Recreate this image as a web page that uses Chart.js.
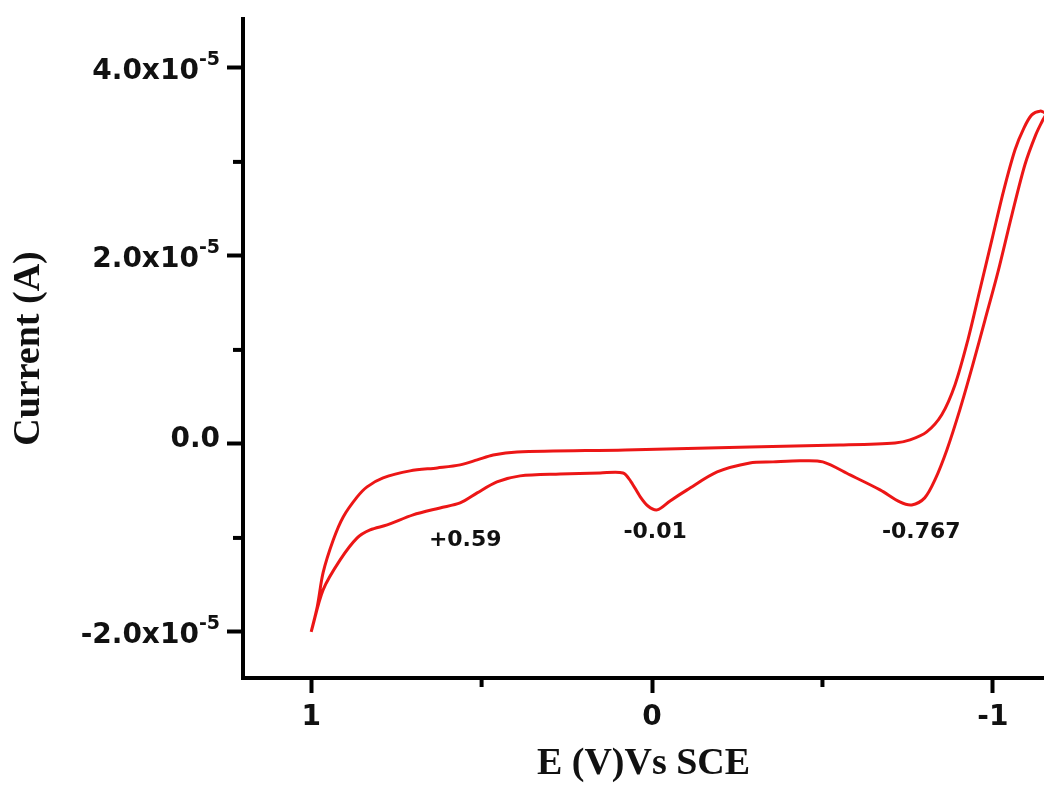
<!DOCTYPE html>
<html><head><meta charset="utf-8">
<script src="https://cdn.jsdelivr.net/npm/chart.js@4.4.1/dist/chart.umd.min.js"></script>
<style>html,body{margin:0;padding:0;background:#fff;overflow:hidden}</style>
</head><body>
<canvas id="c" width="1044" height="787" style="display:block"></canvas>
<script>
// Potential (V vs SCE) and current (units of 1e-5 A), forward (lower) branch
const forwardE = [1.0, 0.965, 0.915, 0.865, 0.827, 0.777, 0.701, 0.622, 0.563, 0.513, 0.455, 0.387, 0.27, 0.152, 0.085, 0.062, 0.035, 0.012, -0.015, -0.053, -0.103, -0.191, -0.287, -0.355, -0.434, -0.501, -0.581, -0.669, -0.727, -0.762, -0.8, -0.830, -0.865, -0.903, -0.941, -0.977, -1.015, -1.056, -1.094, -1.126, -1.147, -1.155];
const forwardI = [-2.0, -1.553, -1.234, -1.0, -0.915, -0.862, -0.755, -0.681, -0.628, -0.521, -0.404, -0.34, -0.32, -0.309, -0.309, -0.40, -0.56, -0.66, -0.702, -0.606, -0.489, -0.298, -0.202, -0.191, -0.18, -0.191, -0.33, -0.489, -0.617, -0.649, -0.574, -0.383, -0.064, 0.362, 0.84, 1.32, 1.83, 2.44, 2.97, 3.29, 3.45, 3.51];
// reverse (upper) branch
const reverseE = [-1.138, -1.114, -1.091, -1.065, -1.032, -0.997, -0.962, -0.927, -0.889, -0.850, -0.806, -0.757, -0.713, -0.551, -0.287, 0.079, 0.396, 0.466, 0.513, 0.563, 0.63, 0.71, 0.789, 0.836, 0.865, 0.906, 0.935, 0.965, 0.982, 1.0];
const reverseI = [3.54, 3.5, 3.36, 3.13, 2.70, 2.17, 1.64, 1.11, 0.63, 0.31, 0.128, 0.043, 0.011, -0.011, -0.032, -0.064, -0.085, -0.117, -0.17, -0.223, -0.255, -0.287, -0.362, -0.457, -0.564, -0.777, -1.02, -1.37, -1.73, -2.0];

const xMajorTicks = [1, 0, -1];
const xTickLabels = ['1', '0', '-1'];
const xMinorTicks = [0.5, -0.5];
const yMajorTicks = [-2, 0, 2, 4];
const yTickMantissa = ['-2.0x10', '0.0', '2.0x10', '4.0x10'];
const yTickExponent = ['-5', '', '-5', '-5'];
const yMinorTicks = [-1, 1, 3];

const peakLabels = ['+0.59', '-0.01', '-0.767'];
const peakLabelE = [0.548, -0.009, -0.79];
const peakLabelI = [-1.02, -0.936, -0.936];

const loop = forwardE.map((e, i) => ({x: e, y: forwardI[i]}))
  .concat(reverseE.map((e, i) => ({x: e, y: reverseI[i]})));

const extras = {
  id: 'extras',
  afterDraw(chart) {
    const ctx = chart.ctx, xs = chart.scales.x, ys = chart.scales.y;
    ctx.save();
    ctx.strokeStyle = '#000';
    ctx.lineWidth = 4;
    xMinorTicks.forEach(v => {
      const p = xs.getPixelForValue(v);
      ctx.beginPath(); ctx.moveTo(p, xs.top); ctx.lineTo(p, xs.top + 9); ctx.stroke();
    });
    yMinorTicks.forEach(v => {
      const p = ys.getPixelForValue(v);
      ctx.beginPath(); ctx.moveTo(ys.right - 10, p); ctx.lineTo(ys.right, p); ctx.stroke();
    });
    ctx.fillStyle = '#111';
    // y tick labels with superscript exponent
    const rightEdge = ys.right - 16 - 7;
    yMajorTicks.forEach((v, i) => {
      const p = ys.getPixelForValue(v);
      ctx.textBaseline = 'middle';
      ctx.textAlign = 'right';
      if (yTickExponent[i]) {
        ctx.font = 'bold 19px "DejaVu Sans"';
        const ew = ctx.measureText(yTickExponent[i]).width;
        ctx.fillText(yTickExponent[i], rightEdge, p - 8);
        ctx.font = 'bold 28px "DejaVu Sans"';
        ctx.fillText(yTickMantissa[i], rightEdge - ew, p + 4);
      } else {
        ctx.font = 'bold 28px "DejaVu Sans"';
        ctx.fillText(yTickMantissa[i], rightEdge, p - 4);
      }
    });
    ctx.font = 'bold 22px "DejaVu Sans"';
    ctx.textAlign = 'center';
    ctx.textBaseline = 'middle';
    peakLabels.forEach((t, i) => {
      ctx.fillText(t, xs.getPixelForValue(peakLabelE[i]), ys.getPixelForValue(peakLabelI[i]));
    });
    ctx.restore();
  }
};

const isIn = (arr, v) => arr.some(a => Math.abs(a - v) < 1e-9);

new Chart(document.getElementById('c'), {
  type: 'scatter',
  data: {
    datasets: [{
      data: loop,
      showLine: true,
      borderColor: 'rgb(236,22,22)',
      borderWidth: 3,
      pointRadius: 0,
      tension: 0.3,
      fill: false
    }]
  },
  options: {
    responsive: false,
    animation: false,
    devicePixelRatio: 1,
    layout: {padding: {top: 19, left: 0, right: 0, bottom: 0}},
    plugins: {legend: {display: false}, tooltip: {enabled: false}},
    scales: {
      x: {
        type: 'linear',
        position: 'bottom',
        reverse: true,
        min: -1.15,
        max: 1.2,
        border: {color: '#000', width: 4},
        grid: {
          drawOnChartArea: false,
          drawTicks: true,
          tickLength: 15,
          tickWidth: 4,
          tickColor: c => (c.tick && isIn(xMajorTicks, c.tick.value)) ? '#000' : 'rgba(0,0,0,0)'
        },
        afterBuildTicks: s => { s.ticks = xMajorTicks.concat(xMinorTicks).sort((a, b) => a - b).map(v => ({value: v})); },
        afterFit: s => { s.height = 109; },
        ticks: {
          autoSkip: false,
          maxRotation: 0,
          padding: 8,
          color: '#111',
          font: {family: '"DejaVu Sans"', weight: 'bold', size: 28},
          callback: v => { const i = xMajorTicks.findIndex(a => Math.abs(a - v) < 1e-9); return i >= 0 ? xTickLabels[i] : ''; }
        },
        title: {
          display: true,
          text: 'E (V)Vs SCE',
          color: '#111',
          font: {family: '"Liberation Serif"', weight: 'bold', size: 38},
          padding: {top: 0, bottom: 0}
        }
      },
      y: {
        type: 'linear',
        position: 'left',
        min: -2.49,
        max: 4.52,
        border: {color: '#000', width: 4},
        grid: {
          drawOnChartArea: false,
          drawTicks: true,
          tickLength: 16,
          tickWidth: 4,
          tickColor: c => (c.tick && isIn(yMajorTicks, c.tick.value)) ? '#000' : 'rgba(0,0,0,0)'
        },
        afterBuildTicks: s => { s.ticks = yMajorTicks.concat(yMinorTicks).sort((a, b) => a - b).map(v => ({value: v})); },
        afterFit: s => { s.width = 243; },
        ticks: {
          autoSkip: false,
          padding: 7,
          callback: () => ''
        },
        title: {
          display: true,
          text: 'Current (A)',
          color: '#111',
          font: {family: '"Liberation Serif"', weight: 'bold', size: 38},
          padding: {top: 6, bottom: 0}
        }
      }
    }
  },
  plugins: [extras]
});
</script>
</body></html>
